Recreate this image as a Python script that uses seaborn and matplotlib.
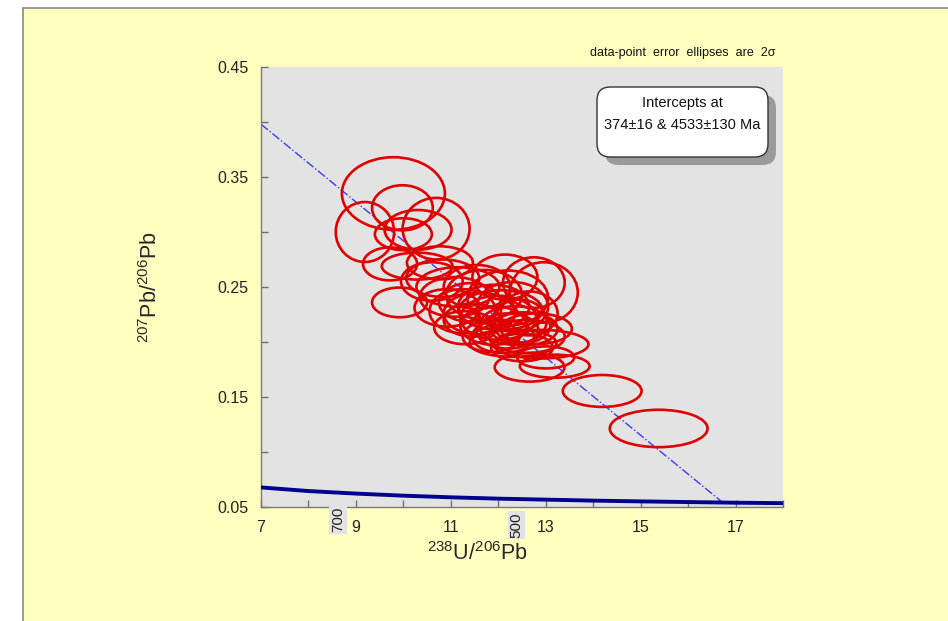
import numpy as np
import pandas as pd
import matplotlib
matplotlib.use("Agg")
import matplotlib.pyplot as plt
import seaborn as sns
from matplotlib.patches import Ellipse, FancyBboxPatch, Rectangle
from matplotlib.lines import Line2D
from matplotlib.ticker import MultipleLocator, FixedLocator
import matplotlib.transforms as mtrans

# ---------------- data ----------------
# error ellipses: centre (238U/206Pb, 207Pb/206Pb), full width, full height (2 sigma)
ell_x = [9.79, 9.98, 9.19, 10.69, 10.00, 10.31, 9.72, 9.92, 10.29, 10.77,
         10.83, 11.15, 11.08, 10.92, 12.14, 12.75, 12.96, 12.31, 12.45, 12.05,
         11.40, 11.60, 11.90, 12.00, 12.20, 11.70, 12.30, 11.45, 12.10, 12.55,
         11.85, 10.60, 12.65, 11.25, 11.55,
         11.90, 12.35, 12.60, 11.30, 12.80, 12.20, 12.50,
         12.90, 12.66, 13.19, 13.00, 14.19, 15.38]
ell_y = [0.335, 0.322, 0.300, 0.303, 0.298, 0.302, 0.271, 0.236, 0.269, 0.272,
         0.258, 0.250, 0.241, 0.231, 0.259, 0.254, 0.245, 0.199, 0.219, 0.229,
         0.236, 0.226, 0.215, 0.222, 0.210, 0.243, 0.232, 0.220, 0.205, 0.212,
         0.205, 0.255, 0.226, 0.228, 0.250,
         0.232, 0.215, 0.205, 0.213, 0.212, 0.240, 0.195,
         0.198, 0.177, 0.178, 0.186, 0.1555, 0.1214]
ell_w = [2.17, 1.28, 1.23, 1.41, 1.20, 1.41, 1.14, 1.16, 1.49, 1.39,
         1.54, 1.75, 1.47, 1.37, 1.37, 1.30, 1.43, 1.83, 1.14, 1.75,
         1.30, 1.50, 1.40, 1.60, 1.30, 1.60, 1.50, 1.20, 1.30, 1.40,
         1.20, 1.30, 1.20, 1.40, 1.40,
         1.50, 1.50, 1.60, 1.30, 1.50, 1.70, 1.30,
         2.00, 1.47, 1.47, 1.20, 1.66, 2.06]
ell_h = [0.066, 0.041, 0.0545, 0.056, 0.029, 0.036, 0.030, 0.027, 0.0245, 0.030,
         0.034, 0.036, 0.036, 0.034, 0.041, 0.046, 0.055, 0.025, 0.039, 0.036,
         0.035, 0.038, 0.035, 0.040, 0.032, 0.045, 0.045, 0.030, 0.030, 0.030,
         0.028, 0.035, 0.040, 0.040, 0.040,
         0.040, 0.035, 0.030, 0.030, 0.028, 0.050, 0.025,
         0.026, 0.026, 0.021, 0.020, 0.029, 0.034]

# concordia curve
conc_x = [7, 8, 9, 10, 11, 12, 13, 14, 15, 16, 17, 18]
conc_y = [0.0678, 0.0645, 0.0622, 0.0603, 0.0588, 0.0576, 0.0567, 0.0558,
          0.0551, 0.0545, 0.0539, 0.0535]

# discordia line
disc_x = [7.0, 16.74]
disc_y = [0.398, 0.0537]

# concordia age labels
age_labels = ["700", "500"]
age_x = [8.62, 12.39]
age_offset = [0.0, -0.012]   # axes-fraction position of label top

x_ticks = [7, 9, 11, 13, 15, 17]
y_ticks = [0.05, 0.15, 0.25, 0.35, 0.45]

title_note = "data-point  error  ellipses  are  2\u03c3"

# ---------------- style ----------------
sns.set_style("ticks")
plt.rcParams['font.family'] = ['Liberation Sans', 'DejaVu Sans']
plt.rcParams['mathtext.fontset'] = 'custom'
plt.rcParams['mathtext.rm'] = 'Liberation Sans'
plt.rcParams['mathtext.it'] = 'Liberation Sans:italic'
plt.rcParams['mathtext.bf'] = 'Liberation Sans:bold'

W, H = 948, 621
fig = plt.figure(figsize=(W / 100, H / 100), dpi=100, facecolor='white')

# yellow panel
x0p, ytop = 23 / W, 1 - 8 / H
fig.patches.append(Rectangle((x0p, 0), 1 - x0p, ytop, transform=fig.transFigure,
                             facecolor='#FFFFC0', edgecolor='none', zorder=-10))
fig.add_artist(Line2D([x0p, x0p], [0, ytop], transform=fig.transFigure,
                      color='#8a8a8a', lw=1.2, zorder=-5))
fig.add_artist(Line2D([x0p, 1], [ytop, ytop], transform=fig.transFigure,
                      color='#8a8a8a', lw=1.2, zorder=-5))

ax = fig.add_axes([261 / W, 114 / H, 522 / W, 440 / H])
ax.set_facecolor('#E3E3E3')

# concordia & discordia via seaborn
conc_df = pd.DataFrame({'x': conc_x, 'y': conc_y})
disc_df = pd.DataFrame({'x': disc_x, 'y': disc_y})
sns.lineplot(data=disc_df, x='x', y='y', ax=ax, color='#3a3aff', lw=1.0,
             linestyle='-.', sort=False, estimator=None, zorder=2)
sns.lineplot(data=conc_df, x='x', y='y', ax=ax, color='#000090', lw=2.8,
             sort=False, estimator=None, zorder=4)

# error ellipses
for x, y, w, h in zip(ell_x, ell_y, ell_w, ell_h):
    ax.add_patch(Ellipse((x, y), w, h, fill=False, edgecolor='#e00000',
                         lw=1.9, zorder=3))

ax.set_xlim(7, 18)
ax.set_ylim(0.05, 0.45)
ax.xaxis.set_major_locator(FixedLocator(x_ticks))
ax.xaxis.set_minor_locator(MultipleLocator(1))
ax.yaxis.set_major_locator(FixedLocator(y_ticks))
ax.yaxis.set_minor_locator(MultipleLocator(0.05))
ax.set_xticklabels([str(t) for t in x_ticks])
ax.set_yticklabels([f"{t:.2f}" for t in y_ticks])
ax.tick_params(which='both', direction='in', length=5, width=1, color='#707070')
ax.tick_params(axis='x', which='major', labelsize=11.5, pad=9, labelcolor='#222222')
ax.tick_params(axis='y', which='major', labelsize=11.5, pad=9, labelcolor='#222222')
for side in ['left', 'bottom', 'top', 'right']:
    ax.spines[side].set_color('#7a7a7a')
    ax.spines[side].set_linewidth(1.0)
ax.spines['top'].set_visible(False)
ax.spines['right'].set_visible(False)

ax.set_xlabel(r'$^{238}$U/$^{206}$Pb', fontsize=15.5)
ax.set_ylabel(r'$^{207}$Pb/$^{206}$Pb', fontsize=15.5)
ax.xaxis.set_label_coords(0.415, -0.079)
ax.yaxis.set_label_coords(-0.19, 0.5)

# age labels on concordia
btrans = mtrans.blended_transform_factory(ax.transData, ax.transAxes)
for lab, xa, yo in zip(age_labels, age_x, age_offset):
    ax.text(xa, yo, lab, transform=btrans, rotation=90, ha='center', va='top',
            fontsize=11, color='#222222', clip_on=False,
            bbox=dict(facecolor='#E3E3E3', edgecolor='none', pad=1.2))

# note above plot
fig.text(775 / W, 1 - 53 / H, title_note, ha='right', va='center',
         fontsize=9, color='#111111')

# intercepts box with shadow
bx0, bx1 = 597 / W, 768 / W
by1, by0 = 1 - 87 / H, 1 - 157 / H
asp = W / H
shadow = FancyBboxPatch((bx0 + 8 / W, by0 - 8 / H), bx1 - bx0, by1 - by0,
                        boxstyle="round,pad=0,rounding_size=0.014",
                        mutation_aspect=asp, transform=fig.transFigure,
                        facecolor='#9a9a9a', edgecolor='none', zorder=5)
box = FancyBboxPatch((bx0, by0), bx1 - bx0, by1 - by0,
                     boxstyle="round,pad=0,rounding_size=0.014",
                     mutation_aspect=asp, transform=fig.transFigure,
                     facecolor='white', edgecolor='#333333', lw=1.0, zorder=6)
fig.patches.append(shadow)
fig.patches.append(box)
fig.text((bx0 + bx1) / 2, 1 - 103 / H, "Intercepts at", ha='center', va='center',
         fontsize=10.5, color='#111111', zorder=7)
fig.text((bx0 + bx1) / 2, 1 - 125 / H, "374\u00b116 & 4533\u00b1130 Ma", ha='center',
         va='center', fontsize=10.5, color='#111111', zorder=7)

fig.savefig('out.png', dpi=100, facecolor='white')
